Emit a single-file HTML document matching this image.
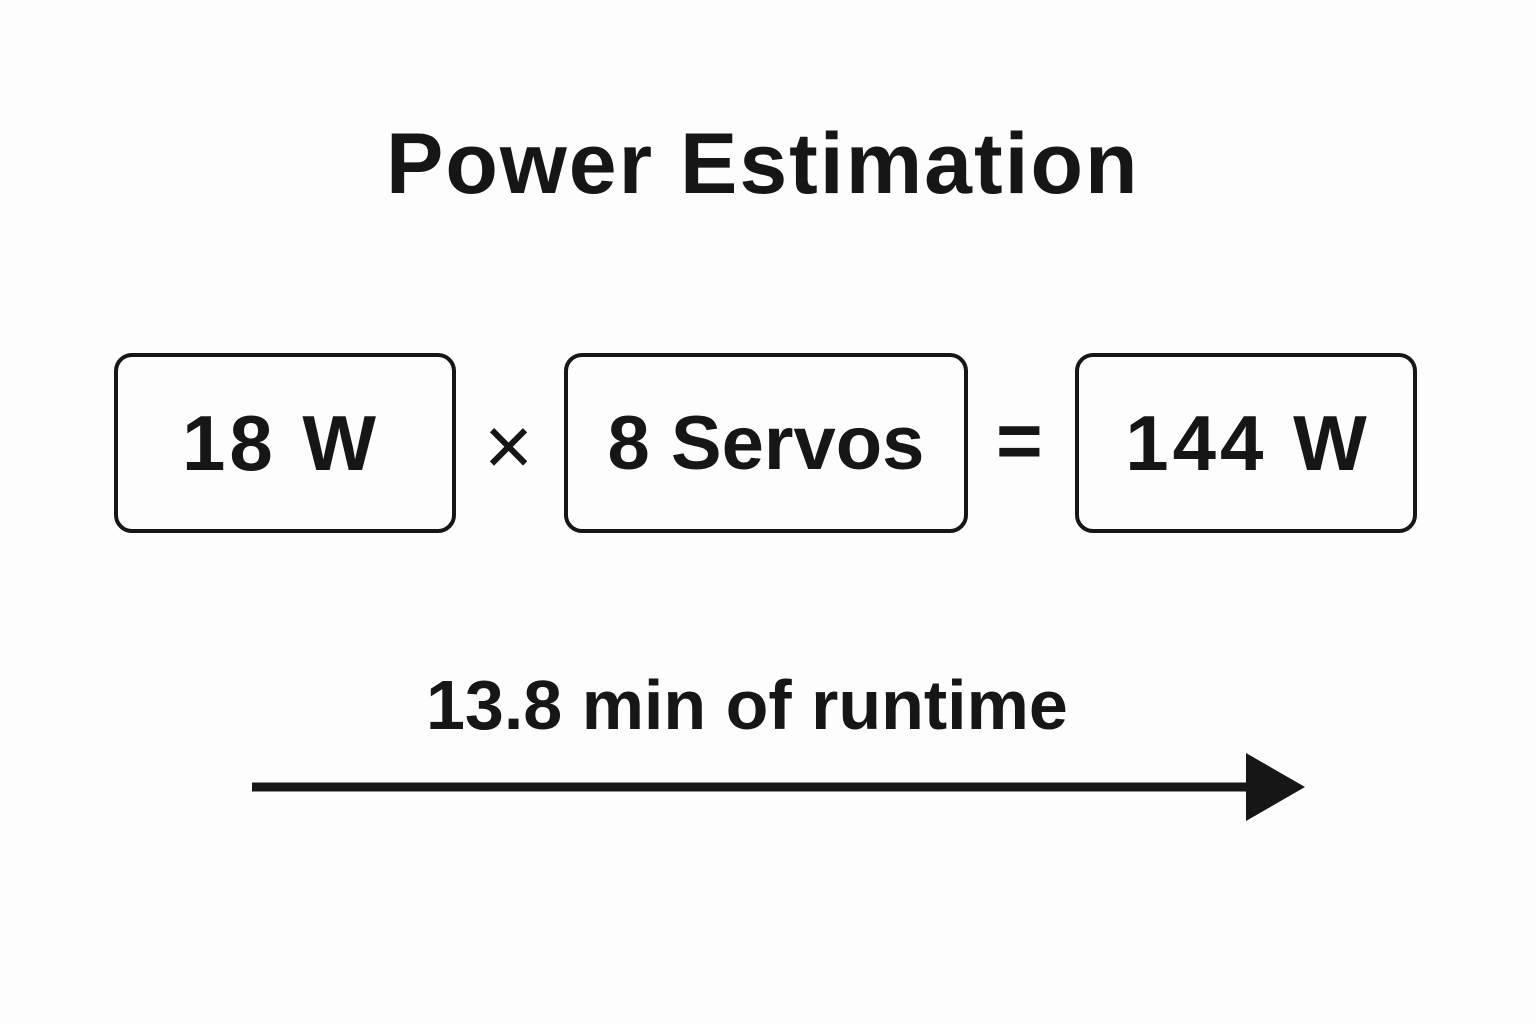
<!DOCTYPE html>
<html><head><meta charset="utf-8"><style>
html,body{margin:0;padding:0;background:#fdfdfd;}
body{width:1536px;height:1024px;position:relative;overflow:hidden;font-family:"Liberation Sans",sans-serif;color:#161616;}
.t{position:absolute;font-weight:bold;white-space:nowrap;}
.box{position:absolute;border:4px solid #161616;border-radius:18px;box-sizing:border-box;display:flex;align-items:center;justify-content:center;font-weight:bold;font-size:76px;}
</style></head><body>
<div class="t" style="left:386px;top:115px;font-size:86px;letter-spacing:2px;">Power Estimation</div>
<div class="box" style="left:114px;top:353px;width:342px;height:180px;"><span style="letter-spacing:4px;margin-right:-4px;font-size:78px;position:relative;left:-6px;">18 W</span></div>
<div class="t" style="left:484px;top:398px;font-size:84px;font-weight:normal;">×</div>
<div class="box" style="left:564px;top:353px;width:404px;height:180px;">8 Servos</div>
<div class="t" style="left:996px;top:395px;font-size:80px;">=</div>
<div class="box" style="left:1075px;top:353px;width:342px;height:180px;"><span style="letter-spacing:4px;margin-right:-4px;font-size:78px;">144 W</span></div>
<div class="t" style="left:426px;top:665px;font-size:70px;">13.8 min of runtime</div>
<svg style="position:absolute;left:0;top:0" width="1536" height="1024">
<line x1="252" y1="787" x2="1252" y2="787" stroke="#161616" stroke-width="9"/>
<polygon points="1246,753 1305,787 1246,821" fill="#161616"/>
</svg>
</body></html>
